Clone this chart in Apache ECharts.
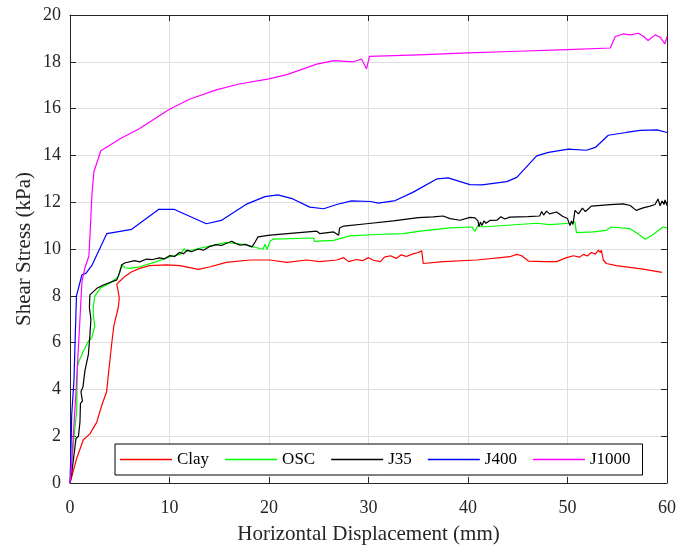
<!DOCTYPE html>
<html>
<head>
<meta charset="utf-8">
<title>Shear stress vs horizontal displacement</title>
<script src="https://cdn.jsdelivr.net/npm/echarts@6/dist/echarts.min.js"></script>
<style>
  html, body { margin: 0; padding: 0; background: #fff; }
  #chart { width: 680px; height: 550px; }
</style>
</head>
<body>
<div id="chart"></div>
<script>
// series names, in legend order
const seriesNames = ['Clay', 'OSC', 'J35', 'J400', 'J1000'];
const seriesColors = ['#ff0000', '#00ff00', '#000000', '#0000ff', '#ff00ff'];

// [displacement (mm), shear stress (kPa)]
const clayPts = [
    [0, 0], [0.17, 0.25], [0.67, 1.05], [1.34, 1.85], [2.0, 2.1], [2.68, 2.59], [3.18, 3.3],
    [3.68, 3.9], [3.9, 4.8], [4.19, 5.95], [4.4, 6.7], [4.85, 7.5], [4.95, 7.9], [4.8, 8.3],
    [4.7, 8.5], [5.0, 8.62], [5.5, 8.82], [6.2, 9.03], [7.0, 9.17], [8.0, 9.29], [9.7, 9.32],
    [11.05, 9.29], [12.9, 9.13], [14.1, 9.24], [15.7, 9.43], [18.1, 9.53], [20.1, 9.53],
    [21.8, 9.43], [23.8, 9.53], [25.1, 9.46], [26.8, 9.53], [27.5, 9.63], [28.0, 9.46],
    [28.8, 9.55], [29.4, 9.5], [30.0, 9.63], [30.5, 9.52], [31.2, 9.46], [31.6, 9.65],
    [32.2, 9.71], [32.8, 9.6], [33.3, 9.75], [33.8, 9.68], [34.4, 9.78], [35.0, 9.85],
    [35.2, 9.81], [35.35, 9.92], [35.5, 9.38], [37.5, 9.46], [40.9, 9.53], [44.2, 9.67],
    [44.9, 9.77], [45.4, 9.71], [46.1, 9.48], [47.6, 9.46], [48.9, 9.46], [49.9, 9.63],
    [50.6, 9.71], [51.2, 9.65], [51.6, 9.77], [52.0, 9.7], [52.4, 9.85], [52.8, 9.78],
    [53.1, 9.95], [53.3, 9.85], [53.4, 9.95], [53.6, 9.53], [53.9, 9.38], [54.9, 9.29],
    [57.6, 9.14], [59.5, 9.0]
];
const oscPts = [
    [0, 0], [0.17, 0.8], [0.4, 1.95], [0.55, 2.0], [0.67, 3.1], [0.75, 5.0], [0.9, 5.2],
    [1.34, 5.63], [1.84, 6.06], [2.18, 6.2], [2.5, 6.7], [2.34, 7.19], [2.35, 7.6], [2.5, 8.0],
    [3.1, 8.35], [4.0, 8.54], [4.85, 8.82], [5.0, 9.08], [5.3, 9.3], [5.5, 9.2], [6.0, 9.17],
    [7.0, 9.24], [8.7, 9.46], [10.05, 9.67], [11.05, 9.77], [11.5, 10.02], [11.7, 9.9],
    [12.5, 9.98], [13.7, 10.09], [15.7, 10.28], [17.6, 10.19], [18.4, 10.09], [19.4, 9.99],
    [19.6, 10.2], [19.8, 9.98], [20.1, 10.33], [20.4, 10.42], [24.5, 10.47], [24.55, 10.33],
    [26.5, 10.37], [28.1, 10.56], [30.8, 10.62], [33.5, 10.66], [35.0, 10.75], [38.2, 10.9],
    [38.4, 10.84], [40.4, 10.94], [40.7, 10.75], [41.0, 11.02], [41.4, 10.94], [46.9, 11.1],
    [48.2, 11.04], [50.25, 11.1], [50.75, 11.15], [50.9, 10.7], [52.6, 10.73], [53.9, 10.8],
    [54.4, 10.94], [56.3, 10.87], [57.3, 10.59], [57.8, 10.42], [58.5, 10.59], [59.6, 10.94],
    [60, 10.9]
];
const j35Pts = [
    [0, 0], [0.17, 0.4], [0.5, 1.55], [0.6, 1.9], [0.85, 2.0], [1.0, 2.6], [1.05, 3.4],
    [1.25, 3.5], [1.1, 3.9], [1.3, 4.1], [1.5, 4.8], [1.85, 5.5], [2.0, 6.3], [2.1, 7.0],
    [1.95, 7.5], [2.0, 8.04], [2.7, 8.32], [3.35, 8.46], [4.7, 8.68], [5.0, 9.0], [5.2, 9.33],
    [5.5, 9.4], [5.7, 9.36], [6.5, 9.5], [7.0, 9.45], [7.7, 9.57], [8.3, 9.55], [9.0, 9.62],
    [9.5, 9.58], [10.05, 9.72], [10.5, 9.68], [11.0, 9.85], [11.4, 9.8], [11.8, 9.95],
    [12.2, 9.88], [12.9, 10.0], [13.4, 9.95], [14.0, 10.1], [14.7, 10.19], [15.2, 10.15],
    [16.25, 10.33], [16.6, 10.25], [17.1, 10.16], [17.6, 10.2], [18.3, 10.09], [18.6, 10.3],
    [18.9, 10.52], [20.1, 10.59], [24.8, 10.76], [25.1, 10.66], [26.5, 10.73], [27.0, 10.59],
    [27.1, 10.9], [27.5, 10.98], [29.8, 11.08], [32.5, 11.2], [35.0, 11.34], [36.5, 11.37],
    [37.5, 11.41], [38.2, 11.3], [39.2, 11.23], [40.2, 11.35], [40.7, 11.33], [41.0, 11.2],
    [41.1, 10.95], [41.25, 11.15], [41.4, 11.0], [41.6, 11.2], [41.8, 11.1], [42.2, 11.22],
    [42.9, 11.23], [43.3, 11.38], [43.7, 11.28], [44.2, 11.36], [46.0, 11.38], [47.2, 11.41],
    [47.4, 11.6], [47.6, 11.45], [47.9, 11.62], [48.2, 11.5], [48.9, 11.58], [49.5, 11.4],
    [50.0, 11.3], [50.25, 11.0], [50.4, 11.2], [50.55, 11.05], [50.75, 11.65], [51.1, 11.5],
    [51.5, 11.75], [51.8, 11.6], [52.4, 11.83], [54.3, 11.9], [55.6, 11.93], [56.3, 11.86],
    [56.9, 11.65], [57.6, 11.76], [58.3, 11.83], [58.8, 11.9], [59.1, 12.14], [59.3, 11.85],
    [59.5, 12.05], [59.7, 11.9], [59.8, 12.1], [60, 11.86]
];
const j400Pts = [
    [0, 0], [0.1, 1.5], [0.17, 2.9], [0.4, 4.4], [0.5, 5.9], [0.65, 8.0], [1.2, 8.9],
    [1.6, 8.96], [2.2, 9.3], [3.7, 10.66], [6.2, 10.84], [8.9, 11.69], [10.5, 11.69],
    [13.7, 11.08], [15.2, 11.22], [17.8, 11.93], [19.6, 12.24], [20.9, 12.31], [22.4, 12.14],
    [24.1, 11.79], [25.5, 11.72], [26.8, 11.9], [28.3, 12.06], [30.2, 12.03], [31.0, 11.96],
    [32.7, 12.07], [34.5, 12.43], [36.9, 13.0], [38.0, 13.04], [40.2, 12.75], [41.4, 12.74],
    [43.9, 12.88], [44.9, 13.06], [46.9, 13.98], [48.1, 14.13], [50.1, 14.27], [51.9, 14.22],
    [52.8, 14.34], [54.1, 14.86], [55.9, 14.98], [57.3, 15.07], [59.0, 15.09], [60, 14.98]
];
const j1000Pts = [
    [0, 0], [0.1, 0.5], [0.3, 1.8], [0.6, 3.9], [0.95, 6.6], [1.2, 8.6], [1.5, 9.2],
    [1.9, 9.7], [2.0, 10.5], [2.2, 12.3], [2.4, 13.3], [3.1, 14.2], [5.0, 14.7], [7.0, 15.15],
    [10.0, 15.97], [12.0, 16.4], [14.7, 16.8], [17.0, 17.05], [20.0, 17.27], [21.8, 17.45],
    [24.8, 17.9], [26.5, 18.05], [28.5, 18.0], [29.3, 18.12], [29.5, 18.05], [29.8, 17.7],
    [30.1, 18.23], [35.0, 18.3], [40.0, 18.38], [45.0, 18.45], [50.0, 18.52], [54.3, 18.59],
    [54.8, 19.08], [55.6, 19.19], [56.3, 19.15], [57.1, 19.22], [57.6, 19.1], [58.1, 18.91],
    [58.8, 19.15], [59.3, 19.05], [59.8, 18.77], [60, 19.08]
];
const allPts = [clayPts, oscPts, j35Pts, j400Pts, j1000Pts];

const serif = '"Liberation Serif", "DejaVu Serif", serif';
const axisColor = '#262626';

const chart = echarts.init(document.getElementById('chart'));

// hidden-label axes on top/right close the box and carry inner ticks
const boxAxis = {
    min: 0,
    axisLine: { show: true, onZero: false, lineStyle: { color: axisColor, width: 1 } },
    axisTick: { show: true, inside: true, length: 6, lineStyle: { color: axisColor } },
    axisLabel: { show: false },
    splitLine: { show: false }
};

const option = {
    animation: false,
    backgroundColor: '#fff',
    grid: { left: 70, right: 13, top: 15, bottom: 64 },
    legend: {
        data: seriesNames,
        left: 115,
        top: 444,
        orient: 'horizontal',
        icon: 'rect',
        backgroundColor: '#fff',
        borderColor: '#000',
        borderWidth: 1,
        padding: [7, 12, 7, 5],
        itemGap: 16,
        itemWidth: 52,
        itemHeight: 1.5,
        textStyle: { fontFamily: serif, fontSize: 17, color: '#000', lineHeight: 17 }
    },
    xAxis: [{
        type: 'value',
        min: 0, max: 60, interval: 10,
        name: 'Horizontal Displacement (mm)',
        nameLocation: 'middle',
        nameGap: 41,
        nameMoveOverlap: false,
        nameTextStyle: { fontFamily: serif, fontSize: 21, color: axisColor },
        axisLine: { show: true, onZero: false, lineStyle: { color: axisColor, width: 1 } },
        axisTick: { show: true, inside: true, length: 6, lineStyle: { color: axisColor } },
        axisLabel: { margin: 16, fontFamily: serif, fontSize: 18, color: axisColor },
        splitLine: { show: true, lineStyle: { color: '#dfdfdf', width: 1 } }
    }, Object.assign({ type: 'value', position: 'top', max: 60, interval: 10 }, boxAxis)],
    yAxis: [{
        type: 'value',
        min: 0, max: 20, interval: 2,
        name: 'Shear Stress (kPa)',
        nameLocation: 'middle',
        nameGap: 35,
        nameMoveOverlap: false,
        nameTextStyle: { fontFamily: serif, fontSize: 21, color: axisColor },
        axisLine: { show: true, onZero: false, lineStyle: { color: axisColor, width: 1 } },
        axisTick: { show: true, inside: true, length: 6, lineStyle: { color: axisColor } },
        axisLabel: { margin: 9, fontFamily: serif, fontSize: 18, color: axisColor },
        splitLine: { show: true, lineStyle: { color: '#dfdfdf', width: 1 } }
    }, Object.assign({ type: 'value', position: 'right', max: 20, interval: 2 }, boxAxis)],
    series: seriesNames.map((name, i) => ({
        name: name,
        type: 'line',
        xAxisIndex: 0,
        yAxisIndex: 0,
        data: allPts[i],
        symbol: 'none',
        color: seriesColors[i],
        lineStyle: { color: seriesColors[i], width: 1.2 }
    }))
};

chart.setOption(option);
</script>
</body>
</html>
